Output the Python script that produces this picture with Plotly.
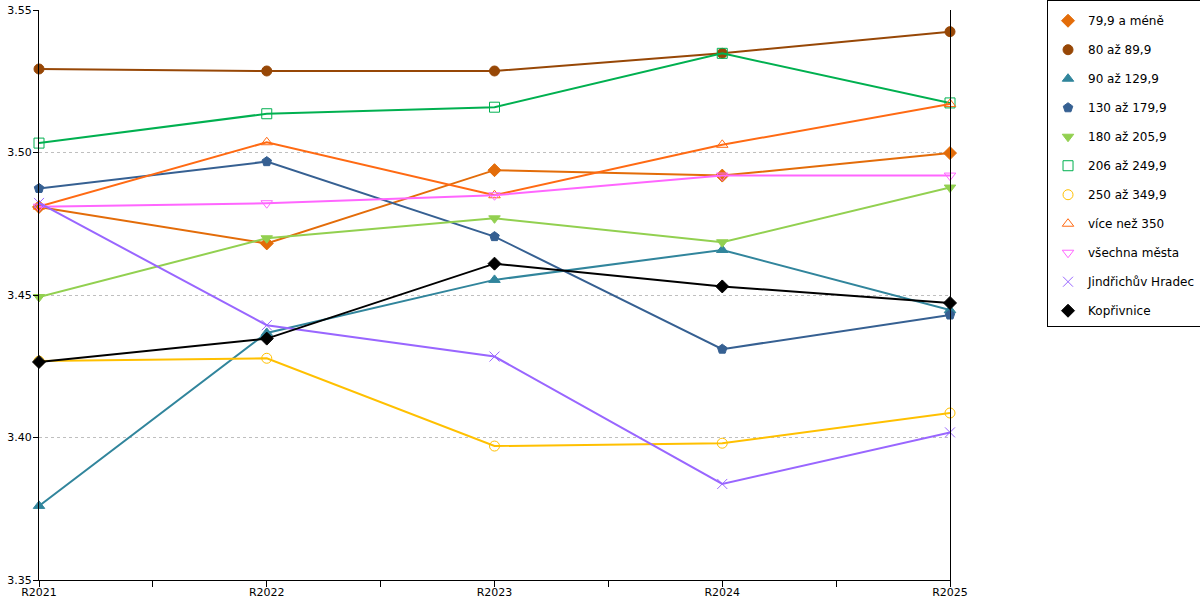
import plotly.graph_objects as go

years = ["R2021", "R2022", "R2023", "R2024", "R2025"]

names = ["79,9 a méně", "80 až 89,9", "90 až 129,9", "130 až 179,9", "180 až 205,9",
         "206 až 249,9", "250 až 349,9", "více než 350", "všechna města",
         "Jindřichův Hradec", "Kopřivnice"]

s_79 = [3.4809, 3.4681, 3.4938, 3.4919, 3.4998]
s_80 = [3.5293, 3.5286, 3.5286, 3.5348, 3.5424]
s_90 = [3.3760, 3.4367, 3.4553, 3.4658, 3.4447]
s_130 = [3.4874, 3.4968, 3.4705, 3.4310, 3.4430]
s_180 = [3.4493, 3.4699, 3.4769, 3.4685, 3.4877]
s_206 = [3.5033, 3.5136, 3.5159, 3.5348, 3.5174]
s_250 = [3.4268, 3.4278, 3.3970, 3.3980, 3.4086]
s_350 = [3.4810, 3.5036, 3.4850, 3.5027, 3.5170]
s_all = [3.4810, 3.4822, 3.4850, 3.4919, 3.4919]
s_jh = [3.4823, 3.4394, 3.4284, 3.3837, 3.4018]
s_kop = [3.4265, 3.4347, 3.4610, 3.4530, 3.4472]

series = [s_79, s_80, s_90, s_130, s_180, s_206, s_250, s_350, s_all, s_jh, s_kop]

colors = ["#E36C09", "#974706", "#31859C", "#366092", "#92D050", "#00B050",
          "#FFC000", "#FF6A13", "#FF66FF", "#9966FF", "#000000"]
symbols = ["diamond", "circle", "triangle-up", "pentagon", "triangle-down", "square-open",
           "circle-open", "triangle-up-open", "triangle-down-open", "x-thin-open", "diamond"]

x = list(range(len(years)))

fig = go.Figure()
for name, vals, col, sym in zip(names, series, colors, symbols):
    fig.add_trace(go.Scatter(
        x=x, y=vals, mode="lines+markers", name=name, showlegend=False,
        cliponaxis=False,
        line=dict(color=col, width=2),
        marker=dict(symbol=sym, size=10, color=col, line=dict(color=col, width=1)),
    ))

# legend shows markers only
for i, (name, col, sym) in enumerate(zip(names, colors, symbols)):
    fig.add_trace(go.Scatter(
        x=[None], y=[None], mode="markers", name=name, legendgroup=f"g{i}",
        marker=dict(symbol=sym, size=10, color=col, line=dict(color=col, width=1)),
    ))

fig.update_layout(
    width=1200, height=600,
    margin=dict(l=39, r=250, t=10, b=20, autoexpand=False),
    plot_bgcolor="white", paper_bgcolor="white",
    font=dict(family="DejaVu Sans", size=12, color="#000000"),
    legend=dict(
        x=1.1065, y=1.0175, xanchor="left", yanchor="top",
        bordercolor="black", borderwidth=1,
        tracegroupgap=10, itemwidth=30, maxheight=600,
        title=dict(text=" ", font=dict(size=4)),
        font=dict(family="DejaVu Sans", size=12),
    ),
)
fig.update_xaxes(
    range=[0, 4], tickvals=x, ticktext=years,
    showline=True, linecolor="black", linewidth=1,
    ticks="outside", ticklen=6, tickcolor="black",
    minor=dict(dtick=0.5, tick0=0, ticks="outside", ticklen=6, tickcolor="black"),
    showgrid=False, zeroline=False, automargin=False,
    tickfont=dict(size=11), ticklabelstandoff=-4,
)
fig.update_yaxes(
    range=[3.35, 3.55], dtick=0.05, tickformat=".2f",
    showline=True, linecolor="black", linewidth=1, mirror=True,
    ticks="outside", ticklen=5, tickcolor="black",
    showgrid=True, gridcolor="#BFBFBF", griddash="dot", gridwidth=1,
    zeroline=False, automargin=False, tickfont=dict(size=11), ticklabelstandoff=-1,
)

# drop the page's default body margin so the 1200x600 figure fills the window
fig.write_html("out.html", config={"displayModeBar": False},
               post_script="document.body.style.margin='0';")
